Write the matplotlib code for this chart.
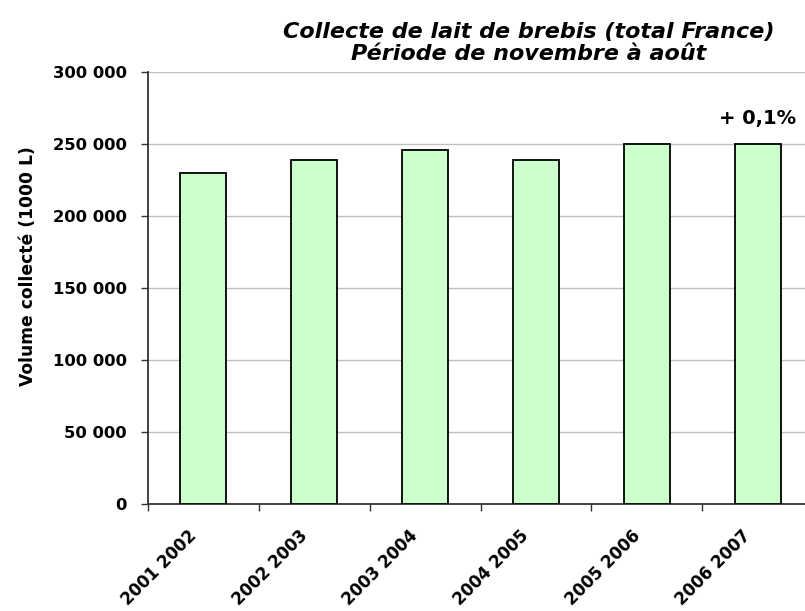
import matplotlib.pyplot as plt
import matplotlib.transforms as mtransforms
import numpy as np

# %% Data
campagnes = ['2001 2002', '2002 2003', '2003 2004', '2004 2005', '2005 2006', '2006 2007']
volume = [229800, 239200, 246000, 239000, 249850, 250100]
yticks = [0, 50000, 100000, 150000, 200000, 250000, 300000]
ytick_labels = ['0', '50 000', '100 000', '150 000', '200 000', '250 000', '300 000']
evolution = '+ 0,1%'

plt.rcParams['font.family'] = ['DejaVu Sans']

fig = plt.figure(figsize=(8.05, 6.11), dpi=100)
ax = fig.add_axes([0.1835, 0.1756, 0.8268, 0.7061])

x = np.arange(len(campagnes))
ax.bar(x, volume, width=0.41, color='#ccffcc', edgecolor='black', linewidth=1.3, zorder=3)

ax.set_xlim(-0.5, len(campagnes) - 0.5)
ax.set_ylim(0, 300000)
ax.set_yticks(yticks)
ax.set_yticklabels(ytick_labels, fontsize=11.8, fontweight='bold')
ax.yaxis.grid(True, color='#c0c0c0', linewidth=1)
ax.set_axisbelow(True)

# category labels, ticks on the boundaries
ax.set_xticks(x)
ax.set_xticklabels(campagnes, rotation=45, ha='right', rotation_mode='anchor',
                   fontsize=12, fontweight='bold')
ax.tick_params(axis='x', which='major', length=0, pad=12)
shift = mtransforms.ScaledTranslation(-16 / 100, -6 / 100, fig.dpi_scale_trans)
for lab in ax.get_xticklabels():
    lab.set_transform(lab.get_transform() + shift)
ax.set_xticks(np.arange(len(campagnes) + 1) - 0.5, minor=True)
ax.tick_params(axis='x', which='minor', length=5, width=1, color='#333333')
ax.tick_params(axis='y', length=5, width=1, color='#333333', pad=10)

for s in ['top', 'right']:
    ax.spines[s].set_visible(False)
for s in ['left', 'bottom']:
    ax.spines[s].set_color('#333333')
    ax.spines[s].set_linewidth(1.3)

ax.text(x[-1], 268000, evolution, ha='center', va='center', fontsize=14, fontweight='bold')

fig.text(0.035, 0.565, 'Volume collecté (1000 L)', rotation=90, ha='center', va='center',
         fontsize=12.3, fontweight='bold')
fig.text(0.657, 0.948, 'Collecte de lait de brebis (total France)', ha='center', va='center',
         fontsize=16, fontweight='bold', style='italic')
fig.text(0.657, 0.912, 'Période de novembre à août', ha='center', va='center',
         fontsize=16, fontweight='bold', style='italic')

fig.savefig('out.png', dpi=100)
